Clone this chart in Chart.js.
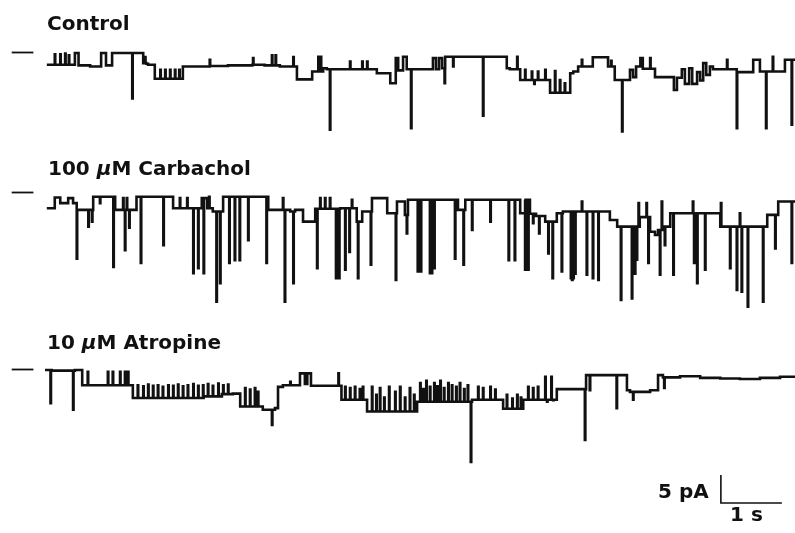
<!DOCTYPE html>
<html>
<head>
<meta charset="utf-8">
<script src="https://cdn.jsdelivr.net/npm/chart.js@4"></script>
<style>
  html, body { margin: 0; padding: 0; background: #fff; }
  #wrap { width: 795px; height: 533px; }
</style>
</head>
<body>
<div id="wrap"><canvas id="traces" width="795" height="533"></canvas></div>
<script>
// single-channel records
// steps: time (s) where a level starts, current (pA) relative to the marked level
// brief: short openings / flickers, time (s) and peak current (pA)
const traceLabels = ['Control', '100 \u03bcM Carbachol', '10 \u03bcM Atropine'];

const ctrlStepT = [0.03, 0.49, 0.55, 0.74, 0.92, 1.00, 1.10, 1.61, 1.66, 1.69, 1.80, 2.26, 2.70, 3.00, 3.40, 3.60, 3.85, 4.13, 4.38, 4.56, 4.62, 5.44, 5.66, 5.75, 5.79, 5.87, 5.93, 6.36, 6.41, 6.46, 6.51, 6.56, 7.57, 7.62, 7.79, 8.28, 8.61, 8.66, 8.74, 8.98, 9.23, 9.34, 9.59, 9.64, 9.69, 9.76, 9.80, 10.00, 10.31, 10.36, 10.44, 10.49, 10.56, 10.61, 10.69, 10.74, 10.79, 10.84, 10.90, 10.95, 11.34, 11.61, 11.72, 12.13, 12.30];
const ctrlStepPA = [-2.2, -0.1, -2.3, -2.5, -0.1, -2.3, -0.1, -1.9, -2.0, -2.2, -4.7, -2.5, -2.4, -2.3, -2.2, -2.3, -2.5, -4.8, -3.4, -2.8, -3.0, -3.7, -5.5, -1.0, -3.2, -0.75, -3.0, -1.0, -3.0, -1.0, -2.8, -0.75, -2.8, -3.0, -4.9, -7.2, -3.7, -3.4, -2.5, -0.85, -2.5, -4.9, -3.1, -4.4, -2.5, -1.0, -2.9, -4.4, -6.7, -4.5, -3.0, -5.6, -2.8, -5.6, -3.5, -5.0, -1.9, -4.0, -2.5, -3.0, -3.5, -1.3, -3.4, -1.3, -1.3];
const ctrlBriefT = [0.16, 0.25, 0.33, 0.39, 1.43, 1.64, 1.89, 1.97, 2.05, 2.13, 2.20, 2.70, 3.41, 3.72, 3.78, 4.07, 4.48, 4.52, 4.67, 5.00, 5.20, 5.28, 6.00, 6.55, 6.69, 7.18, 7.74, 7.87, 7.98, 8.02, 8.08, 8.20, 8.36, 8.44, 8.52, 8.80, 9.28, 9.46, 9.92, 11.18, 11.34, 11.82, 11.93, 12.24];
const ctrlBriefPA = [-0.3, -0.3, -0.2, -0.5, -8.2, -0.8, -3.1, -3.1, -3.1, -3.1, -3.1, -1.3, -1.0, -0.5, -0.5, -0.8, -0.75, -0.75, -13.8, -1.6, -1.6, -1.6, -13.5, -5.5, -2.5, -11.3, -0.75, -3.1, -3.4, -5.6, -3.4, -3.1, -3.3, -4.9, -5.5, -1.3, -1.5, -14.1, -1.0, -1.3, -13.5, -13.5, -0.75, -12.9];

const carbStepT = [0.03, 0.16, 0.25, 0.38, 0.46, 0.52, 0.79, 1.15, 1.50, 2.10, 2.57, 2.66, 2.75, 2.92, 3.66, 4.02, 4.10, 4.23, 4.43, 4.84, 5.11, 5.20, 5.36, 5.61, 5.77, 5.90, 5.95, 6.77, 6.89, 7.79, 7.87, 7.95, 8.05, 8.20, 8.39, 8.49, 9.26, 9.38, 9.75, 9.92, 10.00, 10.05, 10.13, 10.25, 11.07, 11.84, 12.02, 12.30];
const carbStepPA = [-2.8, -0.9, -1.9, -1.0, -1.9, -3.1, -0.75, -3.1, -0.75, -2.8, -1.0, -2.8, -3.4, -0.75, -3.1, -3.4, -3.1, -5.2, -2.9, -2.8, -5.2, -3.4, -1.0, -3.7, -1.6, -4.0, -1.3, -3.1, -1.3, -3.7, -1.3, -3.8, -4.2, -5.2, -3.7, -3.4, -4.9, -6.1, -4.4, -7.0, -7.6, -6.7, -6.1, -3.7, -6.1, -4.0, -1.6, -1.6];
const carbBriefT = [0.52, 0.71, 0.77, 0.90, 1.12, 1.28, 1.31, 1.34, 1.38, 1.57, 1.94, 2.21, 2.33, 2.43, 2.51, 2.60, 2.69, 2.81, 2.87, 3.02, 3.11, 3.19, 3.33, 3.63, 3.90, 3.93, 4.07, 4.46, 4.51, 4.59, 4.67, 4.77, 4.82, 4.92, 4.99, 5.03, 5.13, 5.34, 5.75, 5.93, 6.11, 6.14, 6.16, 6.31, 6.34, 6.38, 6.72, 6.86, 7.00, 7.30, 7.60, 7.70, 7.87, 7.92, 8.00, 8.10, 8.25, 8.32, 8.47, 8.62, 8.64, 8.66, 8.69, 8.80, 8.88, 8.98, 9.07, 9.44, 9.62, 9.64, 9.67, 9.70, 9.73, 9.86, 9.89, 10.08, 10.11, 10.16, 10.30, 10.62, 10.64, 10.69, 10.82, 11.08, 11.23, 11.34, 11.39, 11.42, 11.52, 11.77, 11.97, 12.24];
const carbBriefPA = [-11.8, -6.1, -5.2, -1.9, -13.3, -1.0, -10.3, -1.0, -6.3, -12.6, -9.4, -1.0, -1.0, -14.4, -13.5, -14.4, -0.75, -19.5, -16.2, -12.6, -12.1, -12.1, -8.5, -12.6, -1.0, -19.5, -16.2, -13.5, -1.0, -1.0, -1.0, -15.3, -15.3, -13.8, -10.6, -1.3, -15.3, -12.9, -15.6, -7.3, -14.1, -14.1, -14.1, -14.4, -14.4, -13.5, -11.8, -12.9, -6.7, -5.2, -12.1, -12.1, -13.8, -13.8, -5.5, -7.3, -10.9, -15.3, -14.1, -15.3, -15.6, -15.3, -14.5, -1.6, -14.7, -15.3, -15.6, -19.2, -18.9, -13.5, -14.5, -12.0, -1.9, -1.9, -12.6, -14.7, -1.6, -9.4, -14.7, -1.6, -12.6, -16.2, -13.8, -1.9, -13.5, -17.4, -3.7, -17.7, -20.4, -19.5, -10.0, -12.6];

const atroStepT = [0.00, 0.11, 0.49, 0.61, 1.44, 2.60, 2.90, 3.08, 3.20, 3.57, 3.77, 3.82, 3.90, 4.18, 4.26, 4.30, 4.36, 4.86, 5.28, 6.10, 7.00, 7.51, 7.84, 8.39, 8.87, 9.54, 9.59, 9.92, 10.05, 10.13, 10.41, 10.74, 11.07, 11.39, 11.72, 12.05, 12.30];
const atroStepPA = [-0.1, -0.2, -0.1, -2.8, -5.1, -4.8, -4.4, -4.3, -6.6, -7.2, -6.9, -3.1, -2.8, -0.7, -2.6, -0.7, -2.9, -5.4, -7.5, -5.75, -5.4, -7.0, -5.4, -3.5, -1.0, -3.7, -4.0, -3.7, -1.0, -1.4, -1.2, -1.5, -1.6, -1.7, -1.5, -1.3, -1.3];
const atroBriefT = [0.09, 0.46, 0.70, 1.03, 1.11, 1.23, 1.31, 1.36, 1.52, 1.61, 1.69, 1.77, 1.85, 1.93, 2.02, 2.10, 2.18, 2.26, 2.34, 2.43, 2.51, 2.59, 2.67, 2.75, 2.84, 2.92, 3.00, 3.28, 3.36, 3.44, 3.49, 3.72, 4.02, 4.81, 4.92, 5.00, 5.08, 5.16, 5.21, 5.36, 5.43, 5.49, 5.56, 5.64, 5.74, 5.82, 5.90, 5.98, 6.05, 6.15, 6.20, 6.25, 6.31, 6.38, 6.43, 6.48, 6.54, 6.61, 6.67, 6.74, 6.80, 6.87, 6.93, 6.98, 7.10, 7.18, 7.30, 7.38, 7.57, 7.66, 7.74, 7.80, 7.92, 8.00, 8.08, 8.20, 8.23, 8.30, 8.33, 8.85, 8.93, 9.37, 9.64, 10.15];
const atroBriefPA = [-6.0, -7.2, -0.4, -0.4, -0.4, -0.4, -0.4, -0.4, -2.8, -3.0, -2.7, -2.9, -2.8, -3.1, -2.8, -2.9, -2.7, -3.0, -2.8, -2.6, -2.9, -2.8, -2.6, -2.9, -2.5, -2.8, -2.7, -3.3, -3.6, -3.3, -4.0, -9.9, -2.2, -0.7, -3.1, -3.3, -3.1, -3.5, -3.1, -3.1, -4.5, -3.3, -5.0, -3.1, -4.0, -3.1, -5.0, -3.3, -4.5, -2.4, -3.5, -2.0, -3.1, -2.4, -3.0, -2.0, -3.3, -2.4, -2.8, -3.1, -2.4, -3.5, -2.8, -16.5, -3.1, -3.3, -3.1, -3.6, -4.5, -5.2, -4.5, -5.0, -3.1, -3.3, -3.1, -1.3, -5.75, -1.3, -5.5, -12.6, -3.7, -6.9, -5.4, -3.3];

const scaleBarPA = 5;
const scaleBarS = 1;

// layout: 61 px per second, 5.6 px per pA
const PX_S = 61, PX_PA = 5.6, W = 795, H = 533, X0 = 45;
const BRIEF = 0.008;
const offsets = [-52.5 / PX_PA, -192.5 / PX_PA, -369.5 / PX_PA];

function levelAt(times, levels, t) {
  let v = levels[0];
  for (let i = 0; i < times.length && times[i] <= t; i++) v = levels[i];
  return v;
}

function buildTrace(stepT, stepPA, briefT, briefPA, offset) {
  const pts = stepT.map((t, i) => ({ x: t, y: stepPA[i] }));
  briefT.forEach((t, i) => {
    pts.push({ x: t, y: briefPA[i] });
    pts.push({ x: t + BRIEF, y: levelAt(stepT, stepPA, t + BRIEF) });
  });
  pts.sort((a, b) => a.x - b.x);
  return pts.map(p => ({ x: p.x, y: p.y + offset }));
}

const traces = [
  buildTrace(ctrlStepT, ctrlStepPA, ctrlBriefT, ctrlBriefPA, offsets[0]),
  buildTrace(carbStepT, carbStepPA, carbBriefT, carbBriefPA, offsets[1]),
  buildTrace(atroStepT, atroStepPA, atroBriefT, atroBriefPA, offsets[2])
];

const datasets = traces.map(d => ({
  data: d, stepped: true, borderColor: '#111', borderWidth: 2.6, fill: false
}));
// zero-level marks
offsets.forEach(o => datasets.push({
  data: [{ x: -0.546, y: o }, { x: -0.19, y: o }],
  borderColor: '#111', borderWidth: 1.8, fill: false
}));
// scale bar
const sbX = 11.08, sbY = -503 / PX_PA;
datasets.push({
  data: [{ x: sbX, y: sbY + scaleBarPA }, { x: sbX, y: sbY }, { x: sbX + scaleBarS, y: sbY }],
  borderColor: '#111', borderWidth: 1.6, fill: false
});

const FONT = '"DejaVu Sans", sans-serif';
function drawLabel(c, text, x, y) {
  const parts = text.split('\u03bc');
  parts.forEach((p, i) => {
    c.font = 'bold 20px ' + FONT;
    c.fillText(p, x, y);
    x += c.measureText(p).width;
    if (i < parts.length - 1) {
      c.font = 'italic bold 20px ' + FONT;
      c.fillText('\u03bc', x, y);
      x += c.measureText('\u03bc').width;
    }
  });
}

const labelPlugin = {
  id: 'labels',
  afterDraw(chart) {
    const c = chart.ctx;
    c.save();
    c.fillStyle = '#111';
    c.textBaseline = 'alphabetic';
    drawLabel(c, traceLabels[0], 47, 30);
    drawLabel(c, traceLabels[1], 48, 175);
    drawLabel(c, traceLabels[2], 47, 349);
    drawLabel(c, scaleBarPA + ' pA', 658, 498);
    drawLabel(c, scaleBarS + ' s', 730, 521);
    c.restore();
  }
};

new Chart(document.getElementById('traces'), {
  type: 'line',
  data: { datasets },
  options: {
    responsive: false,
    animation: false,
    devicePixelRatio: 1,
    layout: { padding: 0 },
    elements: { point: { radius: 0 }, line: { tension: 0 } },
    plugins: { legend: { display: false }, tooltip: { enabled: false } },
    scales: {
      x: { type: 'linear', min: -X0 / PX_S, max: (W - X0) / PX_S, display: false },
      y: { type: 'linear', min: -H / PX_PA, max: 0, display: false }
    }
  },
  plugins: [labelPlugin]
});
</script>
</body>
</html>
